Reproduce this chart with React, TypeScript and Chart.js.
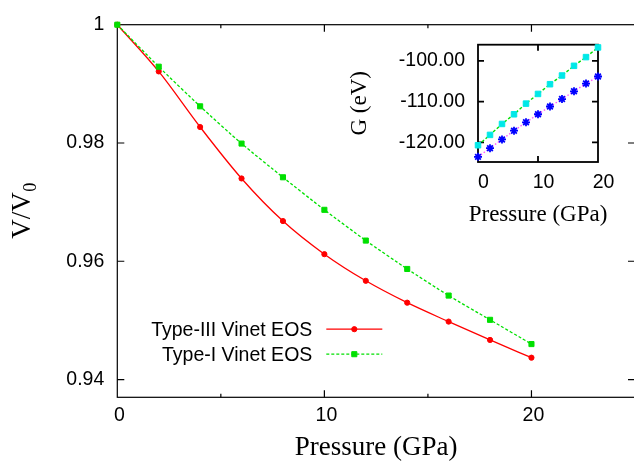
import React, { useEffect, useRef } from 'react';
import { Chart, registerables } from 'chart.js';
import { drawPoint } from 'chart.js/helpers';

Chart.register(...registerables);

// ---------- data ----------
const pressures = [0, 2, 4, 6, 8, 10, 12, 14, 16, 18, 20];
const typeIIIVinet = [1, 0.9921, 0.9827, 0.974, 0.9668, 0.9612, 0.9567, 0.953, 0.9498, 0.9467, 0.9437];
const typeIVinet = [1, 0.9929, 0.9862, 0.9799, 0.9742, 0.9687, 0.9635, 0.9587, 0.9542, 0.9501, 0.946];
const insetPressures = [0, 2, 4, 6, 8, 10, 12, 14, 16, 18, 20];
const insetGSquares = [-120.71, -118.17, -115.48, -113.1, -110.48, -108.1, -105.71, -103.57, -101.19, -99.05, -96.67];
const insetGStars = [-123.57, -121.43, -119.29, -117.14, -115.07, -113.1, -111.19, -109.36, -107.45, -105.55, -103.81];

const seriesLabels = ['Type-III Vinet EOS', 'Type-I Vinet EOS'];
const mainXMajorTicks = [0, 10, 20];
const mainXMinorTicks = [5, 15];
const mainYTicks = [0.94, 0.96, 0.98, 1];
const insetXTicks = [0, 10, 20];
const insetYTicks = [-120, -110, -100];

const SANS = "'Liberation Sans', Arial, sans-serif";
const SERIF = "'Liberation Serif', 'Times New Roman', serif";

// frame with inward ticks (gnuplot style)
const framePlugin = {
  id: 'frame',
  beforeDatasetsDraw(chart: any, _args: any, opts: any) {
    const { ctx, chartArea } = chart;
    const { left, right, top, bottom } = chartArea;
    const xs = chart.scales.x;
    const ys = chart.scales.y;
    ctx.save();
    ctx.strokeStyle = '#000';
    ctx.lineWidth = opts.lineWidth || 1.2;
    ctx.strokeRect(left, top, right - left, bottom - top);
    ctx.beginPath();
    const xt = (vals: number[], len: number) => {
      for (const v of vals) {
        const px = xs.getPixelForValue(v);
        if (px <= left + 0.5 || px >= right - 0.5) continue;
        ctx.moveTo(px, bottom);
        ctx.lineTo(px, bottom - len);
        ctx.moveTo(px, top);
        ctx.lineTo(px, top + len);
      }
    };
    const yt = (vals: number[], len: number) => {
      for (const v of vals) {
        const py = ys.getPixelForValue(v);
        if (py <= top + 0.5 || py >= bottom - 0.5) continue;
        ctx.moveTo(left, py);
        ctx.lineTo(left + len, py);
        ctx.moveTo(right, py);
        ctx.lineTo(right - len, py);
      }
    };
    xt(opts.xMajor || [], opts.major);
    xt(opts.xMinor || [], opts.minor);
    yt(opts.yMajor || [], opts.major);
    ctx.stroke();
    ctx.restore();
  },
};

// axis titles + gnuplot-like key
const decorPlugin = {
  id: 'decor',
  afterDraw(chart: any, _args: any, opts: any) {
    const { ctx, chartArea } = chart;
    const { left, right, top, bottom } = chartArea;
    ctx.save();
    ctx.fillStyle = '#000';
    // x title
    ctx.font = `${opts.titleSize}px ${SERIF}`;
    ctx.textAlign = 'center';
    ctx.textBaseline = 'alphabetic';
    ctx.fillText(opts.xTitle, (left + right) / 2 + (opts.xTitleDx || 0), bottom + opts.xTitleDy);
    // y title (rotated), optional subscript
    const cy = (top + bottom) / 2;
    ctx.save();
    ctx.translate(left - opts.yTitleDx, cy);
    ctx.rotate(-Math.PI / 2);
    const ySize = opts.yTitleSize || opts.titleSize;
    ctx.font = `${ySize}px ${SERIF}`;
    const w1 = ctx.measureText(opts.yTitle).width;
    let w2 = 0;
    const subSize = ySize * 0.68;
    if (opts.yTitleSub) {
      ctx.font = `${subSize}px ${SERIF}`;
      w2 = ctx.measureText(opts.yTitleSub).width;
    }
    const start = -(w1 + w2) / 2;
    ctx.textAlign = 'left';
    ctx.font = `${ySize}px ${SERIF}`;
    ctx.fillText(opts.yTitle, start, 0);
    if (opts.yTitleSub) {
      ctx.font = `${subSize}px ${SERIF}`;
      ctx.fillText(opts.yTitleSub, start + w1 + 0.5, ySize * 0.2);
    }
    ctx.restore();

    // key
    if (opts.key) {
      const k = opts.key;
      chart.data.datasets.forEach((ds: any, i: number) => {
        const ty = top + k.top + i * k.rowGap;
        const tx = left + k.textRight;
        ctx.font = `${k.fontSize}px ${SANS}`;
        ctx.textAlign = 'right';
        ctx.textBaseline = 'middle';
        ctx.fillStyle = '#000';
        ctx.fillText(ds.label, tx, ty + 1);
        const x0 = tx + k.gap;
        const x1 = x0 + k.sampleLen;
        ctx.save();
        ctx.strokeStyle = ds.borderColor;
        ctx.lineWidth = ds.borderWidth;
        ctx.setLineDash(ds.borderDash || []);
        ctx.beginPath();
        ctx.moveTo(x0, ty);
        ctx.lineTo(x1, ty);
        ctx.stroke();
        ctx.setLineDash([]);
        ctx.fillStyle = ds.pointBackgroundColor;
        ctx.strokeStyle = ds.pointBorderColor;
        ctx.lineWidth = ds.pointBorderWidth;
        drawPoint(ctx, { pointStyle: ds.pointStyle, rotation: 0, radius: ds.pointRadius, borderWidth: ds.pointBorderWidth }, (x0 + x1) / 2, ty);
        ctx.restore();
      });
    }
    ctx.restore();
  },
};

function MainChart() {
  const ref = useRef<HTMLCanvasElement>(null);
  useEffect(() => {
    const red = '#ff0000';
    const green = '#00e000';
    const chart = new Chart(ref.current!, {
      type: 'scatter',
      data: {
        datasets: [
          {
            label: seriesLabels[0],
            data: pressures.map((p, i) => ({ x: p, y: typeIIIVinet[i] })),
            showLine: true,
            borderColor: red,
            borderWidth: 1.3,
            cubicInterpolationMode: 'monotone',
            pointStyle: 'circle',
            pointRadius: 2.6,
            pointBackgroundColor: red,
            pointBorderColor: red,
            pointBorderWidth: 1,
            clip: false,
            order: 1,
          } as any,
          {
            label: seriesLabels[1],
            data: pressures.map((p, i) => ({ x: p, y: typeIVinet[i] })),
            showLine: true,
            borderColor: green,
            borderWidth: 1.3,
            borderDash: [3, 2],
            tension: 0.2,
            pointStyle: 'rect',
            pointRadius: 3.6,
            pointBackgroundColor: green,
            pointBorderColor: green,
            pointBorderWidth: 1,
            clip: false,
            order: 0,
          } as any,
        ],
      },
      options: {
        animation: false,
        responsive: true,
        maintainAspectRatio: false,
        events: [],
        layout: { padding: { top: 13.3, right: 2, bottom: 0, left: 0 } },
        plugins: {
          legend: { display: false },
          tooltip: { enabled: false },
          frame: { lineWidth: 1.2, major: 7, minor: 3.5, xMajor: mainXMajorTicks, xMinor: mainXMinorTicks, yMajor: mainYTicks },
          decor: {
            titleSize: 27,
            yTitleSize: 27,
            xTitle: 'Pressure (GPa)',
            xTitleDy: 58,
            yTitle: 'V/V',
            yTitleSub: '0',
            yTitleDx: 87,
            key: { top: 304.5, rowGap: 25, textRight: 195, gap: 14, sampleLen: 56, fontSize: 19.5 },
          },
        } as any,
        scales: {
          x: {
            type: 'linear',
            min: 0,
            max: 25,
            grid: { display: false, drawTicks: false },
            border: { display: false },
            afterBuildTicks: (s: any) => {
              s.ticks = mainXMajorTicks.map((v) => ({ value: v }));
            },
            afterFit: (s: any) => {
              s.height = 465 - 397.3 - 0;
            },
            ticks: {
              padding: 7,
              labelOffset: 2,
              maxRotation: 0,
              color: '#000',
              font: { family: SANS, size: 19.5 },
              callback: (v: any) => String(v),
            },
          },
          y: {
            type: 'linear',
            min: 0.937,
            max: 1,
            grid: { display: false, drawTicks: false },
            border: { display: false },
            afterBuildTicks: (s: any) => {
              s.ticks = mainYTicks.map((v) => ({ value: v }));
            },
            afterFit: (s: any) => {
              s.width = 117.3;
            },
            ticks: {
              padding: 13,
              color: '#000',
              font: { family: SANS, size: 19.5 },
              callback: (v: any) => String(+Number(v).toFixed(2)),
            },
          },
        },
      },
      plugins: [framePlugin, decorPlugin],
    });
    return () => chart.destroy();
  }, []);
  return <canvas ref={ref} />;
}

function InsetChart() {
  const ref = useRef<HTMLCanvasElement>(null);
  useEffect(() => {
    const cyan = '#00e8e8';
    const green = '#00e000';
    const blue = '#0000ff';
    const magenta = '#ff55ff';
    const chart = new Chart(ref.current!, {
      type: 'scatter',
      data: {
        datasets: [
          {
            label: 'G squares',
            data: insetPressures.map((p, i) => ({ x: p, y: insetGSquares[i] })),
            showLine: true,
            borderColor: green,
            borderWidth: 1.4,
            borderDash: [3, 2],
            pointStyle: 'rect',
            pointRadius: 3.9,
            pointBackgroundColor: cyan,
            pointBorderColor: cyan,
            pointBorderWidth: 1,
            clip: false,
          } as any,
          {
            label: 'G stars',
            data: insetPressures.map((p, i) => ({ x: p, y: insetGStars[i] })),
            showLine: true,
            borderColor: magenta,
            borderWidth: 1.4,
            borderDash: [1.5, 2],
            pointStyle: 'star',
            pointRadius: 4,
            pointBackgroundColor: blue,
            pointBorderColor: blue,
            pointBorderWidth: 1.8,
            clip: false,
          } as any,
        ],
      },
      options: {
        animation: false,
        responsive: true,
        maintainAspectRatio: false,
        events: [],
        layout: { padding: { top: 21, right: 32, bottom: 0, left: 0 } },
        plugins: {
          legend: { display: false },
          tooltip: { enabled: false },
          frame: { lineWidth: 1.8, major: 6, minor: 3, xMajor: insetXTicks, xMinor: [], yMajor: insetYTicks },
          decor: {
            titleSize: 23,
            xTitle: 'Pressure (GPa)',
            xTitleDy: 59,
            yTitle: 'G (eV)',
            yTitleDx: 112,
          },
        } as any,
        scales: {
          x: {
            type: 'linear',
            min: 0,
            max: 20,
            grid: { display: false, drawTicks: false },
            border: { display: false },
            afterBuildTicks: (s: any) => {
              s.ticks = insetXTicks.map((v) => ({ value: v }));
            },
            afterFit: (s: any) => {
              s.height = 68;
            },
            ticks: {
              padding: 9,
              labelOffset: 5.5,
              maxRotation: 0,
              color: '#000',
              font: { family: SANS, size: 19.5 },
              callback: (v: any) => String(v),
            },
          },
          y: {
            type: 'linear',
            min: -124.83,
            max: -96,
            grid: { display: false, drawTicks: false },
            border: { display: false },
            afterBuildTicks: (s: any) => {
              s.ticks = insetYTicks.map((v) => ({ value: v }));
            },
            afterFit: (s: any) => {
              s.width = 148;
            },
            ticks: {
              padding: 13,
              color: '#000',
              font: { family: SANS, size: 19.5 },
              callback: (v: any) => Number(v).toFixed(2),
            },
          },
        },
      },
      plugins: [framePlugin, decorPlugin],
    });
    return () => chart.destroy();
  }, []);
  return <canvas ref={ref} />;
}

export default function App() {
  useEffect(() => {
    document.body.style.margin = '0';
    document.body.style.overflow = 'hidden';
  }, []);
  return (
    <div style={{ position: 'fixed', left: 0, top: 0, width: 634, height: 465, overflow: 'hidden', background: '#fff' }}>
      <div style={{ position: 'absolute', left: 0, top: 0, width: 640, height: 465 }}>
        <MainChart />
      </div>
      <div style={{ position: 'absolute', left: 330, top: 20, width: 300, height: 210 }}>
        <InsetChart />
      </div>
    </div>
  );
}
